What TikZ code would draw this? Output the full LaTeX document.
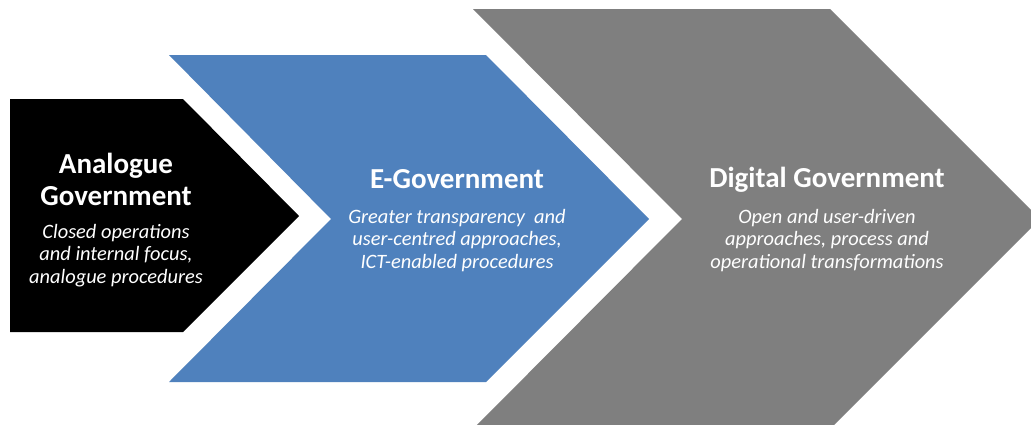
\documentclass[tikz,border=0pt]{standalone}
\usepackage{fontspec}
\setmainfont{Carlito}
\definecolor{egblue}{HTML}{4F81BD}
\definecolor{dggray}{HTML}{7F7F7F}
\tikzset{
  titletext/.style={text=white, font=\fontsize{29}{32}\selectfont\bfseries, align=center, inner sep=0pt, anchor=base},
  desctext/.style={text=white, font=\fontsize{20.4}{22.4}\selectfont\itshape, align=center, inner sep=0pt, anchor=base}
}
\begin{document}
\begin{tikzpicture}[x=1pt,y=-1pt]
\useasboundingbox (0,0) rectangle (1031,424);
\fill[white] (0,0) rectangle (1031,424);
\begin{scope}
\clip (0,0) rectangle (1031,424);
\fill[dggray] (473,9) -- (830,9) -- (1040,219) -- (830,429) -- (473,429) -- (682,219) -- cycle;
\end{scope}
\fill[egblue] (169,55) -- (486,55) -- (649,219) -- (486,382) -- (169,382) -- (331,219) -- cycle;
\fill[black] (10,99) -- (183,99) -- (299,216) -- (183,332) -- (10,332) -- cycle;

\node[titletext] (t1) at (116,205) {Analogue\\Government};
\node[desctext] (d1) at (116,283) {Closed operations\\and internal focus,\\analogue procedures};
\node[titletext] (t2) at (457,188) {E-Government};
\node[desctext] (d2) at (457,268) {Greater transparency~ and\\user-centred approaches,\\ICT-enabled procedures};
\node[titletext] (t3) at (827,187) {Digital Government};
\node[desctext] (d3) at (827,268) {Open and user-driven\\approaches, process and\\operational transformations};
\end{tikzpicture}
\end{document}
